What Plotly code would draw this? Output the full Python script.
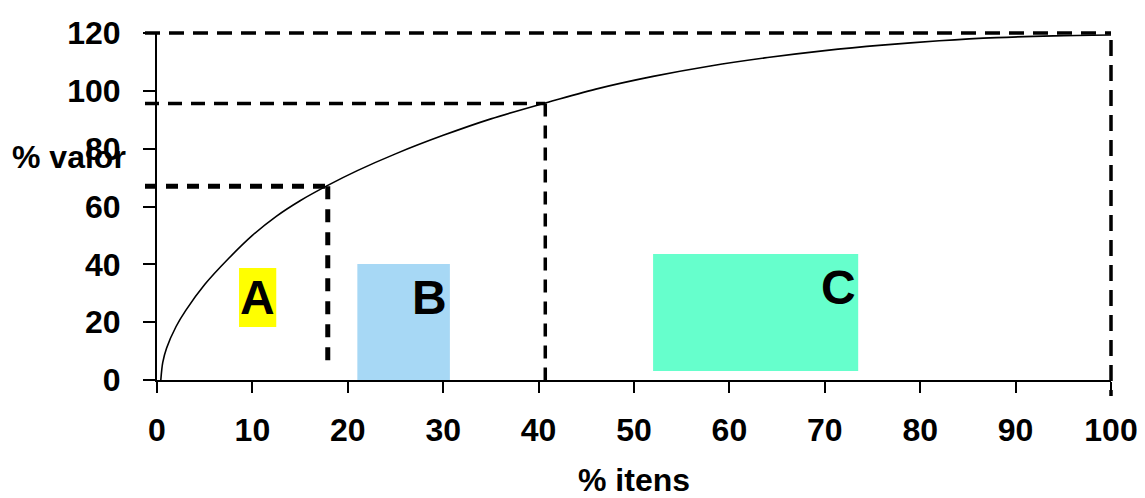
import plotly.graph_objects as go

# ---- data ----
curve_x = [0.4, 0.6, 1, 2, 3, 5, 7.5, 10, 12.5, 15, 17.9, 21, 25, 30, 35, 40.7,
           46, 52, 58, 64, 70, 76, 82, 88, 94, 100]
curve_y = [0, 6, 11, 18.5, 24, 33, 42, 50, 56.6, 62.0, 67.3, 72.4, 78.2, 84.6, 90.3, 95.8,
           100.6, 105.0, 108.6, 111.5, 113.9, 115.8, 117.3, 118.4, 119.0, 119.3]

break_x = [17.9, 40.7, 100]      # % itens at class limits
break_y = [67, 95.6, 120]        # % valor at class limits

class_labels = ["A", "B", "C"]
box_x0 = [8.6, 21.0, 52.0]
box_x1 = [12.5, 30.7, 73.5]
box_y0 = [18.3, 0, 3.1]
box_y1 = [38.7, 40.1, 43.6]
label_x = [10.55, 28.6, 71.4]
label_y = [28.5, 28.5, 32]
box_colors = ["#FFFF00", "#A7D8F5", "#66FFCC"]

x_ticks = [0, 10, 20, 30, 40, 50, 60, 70, 80, 90, 100]
y_ticks = [0, 20, 40, 60, 80, 100, 120]

X_RANGE = [0, 100]
Y_RANGE = [0, 120]

# the page body has an 8px margin (left/top), so the figure is sized to fit the window
BODY = 8
W, H = 1145 - BODY, 498 - BODY
ML, MR, MT, MB = 157 - BODY, 34, 33 - BODY, 118
PW = W - ML - MR
PH = H - MT - MB

FONT = "Liberation Sans, Arial, sans-serif"


def px(x):
    return (x - X_RANGE[0]) / (X_RANGE[1] - X_RANGE[0])


def py(y):
    return (y - Y_RANGE[0]) / (Y_RANGE[1] - Y_RANGE[0])


fig = go.Figure()

fig.add_trace(go.Scatter(
    x=curve_x, y=curve_y, mode="lines",
    line=dict(color="black", width=1.6, shape="spline", smoothing=0.9),
    hoverinfo="skip", showlegend=False,
))

shapes = []
# coloured class boxes
for i in range(3):
    shapes.append(dict(type="rect", xref="x", yref="y",
                       x0=box_x0[i], x1=box_x1[i], y0=box_y0[i], y1=box_y1[i],
                       fillcolor=box_colors[i], line=dict(width=0), layer="below"))

# dashed guide lines (paper refs so they can run past the axes)
h_styles = [dict(width=5, dash="12px,9px"), dict(width=3.5, dash="14px,9px"),
            dict(width=3.5, dash="15px,9px")]
v_styles = [dict(width=5, dash="13px,10px"), dict(width=3.5, dash="13px,9px"),
            dict(width=3.5, dash="16px,9px")]
left_ext = -12 / PW
v_end = [py(4), py(0), -16 / PH]
for i in range(3):
    shapes.append(dict(type="line", xref="paper", yref="paper",
                       x0=left_ext, x1=px(break_x[i]),
                       y0=py(break_y[i]), y1=py(break_y[i]),
                       line=dict(color="black", **h_styles[i])))
    shapes.append(dict(type="line", xref="paper", yref="paper",
                       x0=px(break_x[i]), x1=px(break_x[i]),
                       y0=py(break_y[i]) - (0.02 if i == 2 else 0), y1=v_end[i],
                       line=dict(color="black", **v_styles[i])))

annotations = []
for i in range(3):
    annotations.append(dict(x=label_x[i], y=label_y[i], xref="x", yref="y",
                            text="<b>%s</b>" % class_labels[i], showarrow=False,
                            font=dict(family=FONT, size=48, color="black"),
                            xanchor="center", yanchor="middle"))
annotations.append(dict(x=-(ML - (69 - BODY)) / PW, y=py(77), xref="paper", yref="paper",
                        text="<b>% valor</b>", showarrow=False,
                        font=dict(family=FONT, size=32, color="black"),
                        xanchor="center", yanchor="middle"))

fig.update_layout(
    width=W, height=H,
    margin=dict(l=ML, r=MR, t=MT, b=MB, pad=0),
    paper_bgcolor="white", plot_bgcolor="white",
    shapes=shapes, annotations=annotations,
    showlegend=False,
    xaxis=dict(range=X_RANGE, tickvals=x_ticks, ticktext=[str(v) for v in x_ticks],
               automargin=False,
               showgrid=False, zeroline=False, showline=True, linecolor="black",
               linewidth=2, ticks="outside", ticklen=11, tickwidth=2, tickcolor="black",
               tickfont=dict(family=FONT, size=32, color="black", weight="bold"),
               ticklabelstandoff=10,
               title=dict(text="<b>% itens</b>", standoff=30,
                          font=dict(family=FONT, size=32, color="black"))),
    yaxis=dict(range=Y_RANGE, tickvals=y_ticks, ticktext=[str(v) for v in y_ticks],
               automargin=False,
               showgrid=False, zeroline=False, showline=True, linecolor="black",
               linewidth=2, ticks="outside", ticklen=12, tickwidth=2, tickcolor="black",
               tickfont=dict(family=FONT, size=32, color="black", weight="bold"),
               ticklabelstandoff=16),
)

fig.write_html("out.html")
